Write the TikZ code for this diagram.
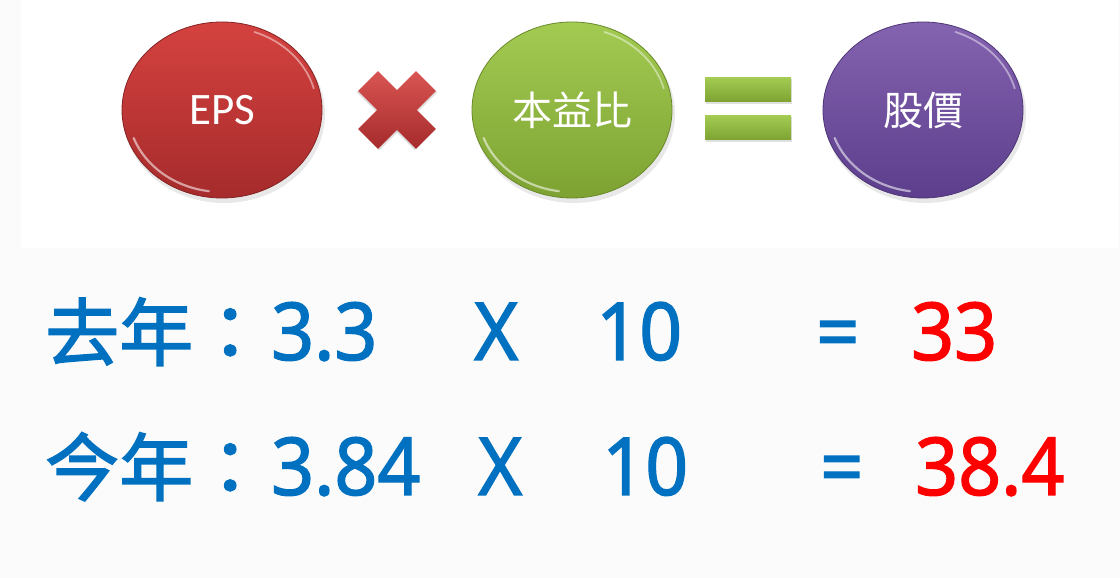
\documentclass[tikz,border=0pt]{standalone}
\usepackage{fontspec}
\setmainfont{Noto Sans}
\newfontfamily\numfont[FakeBold=1.6, FakeStretch=0.94]{Noto Sans}
\newfontfamily\cjkfont{Noto Sans CJK TC}
\newfontfamily\cjkrow[FakeBold=2]{Noto Sans CJK TC}
\newfontfamily\carfont{Carlito}
\usetikzlibrary{shapes.geometric}
\definecolor{bg}{HTML}{FBFBFB}
\definecolor{numblue}{HTML}{0070C0}
\definecolor{numred}{HTML}{FF0000}
\definecolor{rtop}{HTML}{D4423F}
\definecolor{rbot}{HTML}{A62B2C}
\definecolor{gtop}{HTML}{A3CB52}
\definecolor{gbot}{HTML}{7DA232}
\definecolor{ptop}{HTML}{8463B0}
\definecolor{pbot}{HTML}{5C3E8C}
\tikzset{
  ball/.style={ellipse, minimum width=200, minimum height=176, inner sep=0, text=white},
  rowtxt/.style={anchor=base west, inner sep=0, text=numblue, font=\numfont\fontsize{80}{96}\selectfont},
  rowcjk/.style={anchor=base west, inner sep=0, text=numblue, font=\cjkrow\fontsize{74}{90}\selectfont},
}
\begin{document}
\begin{tikzpicture}[x=1pt,y=1pt]
\fill[bg] (0,0) rectangle (1120,578);
\useasboundingbox (0,0) rectangle (1120,578);
\fill[white] (21,330) rectangle (1118,578);
% shadows
\foreach \cx in {222,572,923}{
  \fill[black!25, opacity=0.35] (\cx+2,464) ellipse (101 and 89);
}
% balls
\node[ball, top color=rtop, bottom color=rbot, draw=rbot!80!black, line width=0.8, font=\carfont\fontsize{45}{52}\selectfont] (eps) at (222,468) {EPS};
\node[ball, top color=gtop, bottom color=gbot, draw=gbot!85!black, line width=0.8, font=\cjkfont\fontsize{40}{46}\selectfont] (pe) at (572,468) {本益比};
\node[ball, top color=ptop, bottom color=pbot, draw=pbot!85!black, line width=0.8, font=\cjkfont\fontsize{40}{46}\selectfont] (price) at (923,468) {股價};
% glossy rims
\foreach \n/\cx in {eps/222,pe/572,price/923}{
  \draw[white, opacity=0.55, line width=2.2, line cap=round] (\cx,468) ++(200:94 and 82) arc[start angle=200, end angle=262, x radius=94, y radius=82];
  \draw[white, opacity=0.45, line width=1.8, line cap=round] (\cx,468) ++(15:95 and 83) arc[start angle=15, end angle=70, x radius=95, y radius=83];
}
% multiplication sign
\begin{scope}[shift={(397,468)}]
  \foreach \a in {45,-45}{
    \fill[black!30, opacity=0.4, rotate=\a] (-41,-16) rectangle (41,12);
  }
  \foreach \a in {45,-45}{
    \shade[rotate=\a, top color=rtop!90!white, bottom color=rbot] (-41,-14) rectangle (41,14);
  }
\end{scope}
% equals sign
\fill[black!30, opacity=0.4] (706,474) rectangle (792,499);
\fill[black!30, opacity=0.4] (706,436) rectangle (792,461);
\shade[top color=gtop, bottom color=gbot] (705,476) rectangle (791,500);
\shade[top color=gtop, bottom color=gbot] (705,438) rectangle (791,462);
% row 1
\node[rowcjk] (l1) at (45,218) {去年：};
\node[rowtxt] (a1) at (271,218) {3.3};
\node[rowtxt] (x1) at (474,218) {X};
\node[rowtxt] (b1) at (596,218) {10};
\node[rowtxt] (e1) at (816,218) {=};
\node[rowtxt, text=numred] (r1) at (911,218) {33};
% row 2
\node[rowcjk] (l2) at (45,83) {今年：};
\node[rowtxt] (a2) at (271,83) {3.84};
\node[rowtxt] (x2) at (478,83) {X};
\node[rowtxt] (b2) at (602,83) {10};
\node[rowtxt] (e2) at (820,83) {=};
\node[rowtxt, text=numred] (r2) at (915,83) {38.4};
\end{tikzpicture}
\end{document}
